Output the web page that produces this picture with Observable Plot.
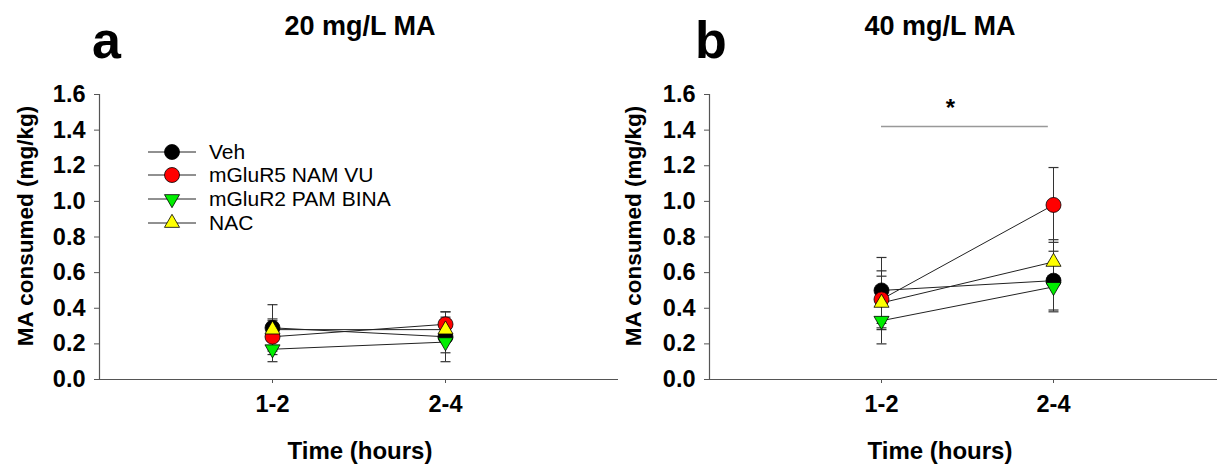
<!DOCTYPE html>
<html><head><meta charset="utf-8">
<script src="https://cdn.jsdelivr.net/npm/d3@7"></script>
<script src="https://cdn.jsdelivr.net/npm/@observablehq/plot@0.6"></script>
<style>
html,body{margin:0;padding:0;background:#fff;overflow:hidden;width:1217px;height:466px;}
#wrap{position:relative;width:1217px;height:466px;overflow:hidden;}
#wrap > svg{position:absolute;top:0;}
</style></head><body><div id="wrap"></div>
<script>
const FONT = '"Liberation Sans", Arial, sans-serif';
const TICK_FS = 23.5;

const timeLabels = ["1-2", "2-4"];
const timeX = [1, 2];
const groups = ["Veh", "mGluR5 NAM VU", "mGluR2 PAM BINA", "NAC"];
const groupFill = ["#000000", "#ff0000", "#00ee00", "#ffff00"];
const groupSymbol = ["circle", "circle", "triangle", "triangle"];
const groupRotate = [0, 0, 180, 0];
const groupR = [7.5, 7.5, 5.6, 5.6];

// Panel a: 20 mg/L MA (mean, SEM) at 1-2 and 2-4 h
const a_veh = [0.29, 0.24],  a_veh_sem = [0.13, 0.14];
const a_vu = [0.24, 0.31],   a_vu_sem = [0.10, 0.07];
const a_bina = [0.17, 0.21], a_bina_sem = [0.07, 0.06];
const a_nac = [0.28, 0.28],  a_nac_sem = [0.05, 0.07];
// Panel b: 40 mg/L MA
const b_veh = [0.50, 0.555], b_veh_sem = [0.185, 0.165];
const b_vu = [0.45, 0.98],   b_vu_sem = [0.16, 0.21];
const b_bina = [0.33, 0.52], b_bina_sem = [0.13, 0.14];
const b_nac = [0.43, 0.66],  b_nac_sem = [0.15, 0.125];

const yTicks = [0, 0.2, 0.4, 0.6, 0.8, 1.0, 1.2, 1.4, 1.6];
const xDomain = [0, 3];
const yDomain = [0, 1.6];
const sigX = [1.0, 1.97];
const sigY = [1.42];
const star = [{x: 1.40, y: 1.52, label: "*"}];

const capSymbol = {draw(ctx) { ctx.moveTo(-5, 0); ctx.lineTo(5, 0); }};

function buildRows(means, sems) {
  const rows = [];
  groups.forEach((g, gi) => timeX.forEach((t, ti) =>
    rows.push({g, gi, t, m: means[gi][ti], e: sems[gi][ti]})));
  return rows;
}

function fixTickText(svg) {
  svg.querySelectorAll('g[aria-label$="tick label"] text').forEach(t => {
    t.style.fontSize = TICK_FS + "px";
    t.style.fontWeight = "bold";
  });
}

function panel(means, sems, width, extra) {
  const rows = buildRows(means, sems);
  const marks = [
    Plot.ruleX(rows, {x: "t", y1: d => d.m - d.e, y2: d => d.m + d.e, stroke: "#333", strokeWidth: 1}),
    Plot.dot(rows, {x: "t", y: d => d.m - d.e, symbol: capSymbol, stroke: "#333", strokeWidth: 1.2, fill: "none"}),
    Plot.dot(rows, {x: "t", y: d => d.m + d.e, symbol: capSymbol, stroke: "#333", strokeWidth: 1.2, fill: "none"}),
    Plot.line(rows, {x: "t", y: "m", z: "g", stroke: "#222", strokeWidth: 1}),
    ...groups.map((g, gi) => Plot.dot(rows.filter(d => d.gi === gi), {
      x: "t", y: "m", r: groupR[gi], symbol: groupSymbol[gi], rotate: groupRotate[gi],
      fill: groupFill[gi], stroke: "#000", strokeWidth: 0.8
    })),
    Plot.ruleX([xDomain[0]], {stroke: "#555", strokeWidth: 1.2}),
    Plot.ruleY([yDomain[0]], {stroke: "#555", strokeWidth: 1.2}),
    Plot.axisY(yTicks, {tickFormat: d3.format(".1f"), tickSize: 5, tickPadding: 9,
      fontSize: TICK_FS, fontWeight: "bold", stroke: "#555", label: null}),
    Plot.axisX(timeX, {tickFormat: d => timeLabels[timeX.indexOf(d)], tickSize: 4, tickPadding: 12,
      fontSize: TICK_FS, fontWeight: "bold", stroke: "#555", label: null}),
    ...extra
  ];
  const svg = Plot.plot({
    width, height: 466, marginLeft: 99, marginRight: 2, marginTop: 94, marginBottom: 87,
    x: {domain: xDomain}, y: {domain: yDomain},
    style: {fontFamily: FONT, background: "transparent", color: "#000"},
    marks
  });
  fixTickText(svg);
  return svg;
}

const wrap = document.getElementById("wrap");
const svgA = panel([a_veh, a_vu, a_bina, a_nac], [a_veh_sem, a_vu_sem, a_bina_sem, a_nac_sem], 620, []);
svgA.style.left = "0px";
const svgB = panel([b_veh, b_vu, b_bina, b_nac], [b_veh_sem, b_vu_sem, b_bina_sem, b_nac_sem], 617, [
  Plot.ruleY(sigY, {x1: sigX[0], x2: sigX[1], stroke: "#999", strokeWidth: 1.5}),
  Plot.text(star, {x: "x", y: "y", text: "label", fontSize: 24, fontWeight: "bold"})
]);
svgB.style.left = "610px";
wrap.appendChild(svgA);
wrap.appendChild(svgB);

// Overlay: titles, panel letters, axis titles, legend
const ov = d3.select(wrap).append("svg").attr("width", 1217).attr("height", 466)
  .style("left", "0px").style("pointer-events", "none")
  .attr("font-family", FONT);
function label(txt, x, y, size, anchor, rot) {
  const t = ov.append("text").text(txt).attr("font-size", size).attr("font-weight", "bold")
    .attr("text-anchor", anchor);
  if (rot) t.attr("transform", `translate(${x},${y}) rotate(-90)`).attr("dy", "0.35em");
  else t.attr("transform", `translate(${x},${y})`);
}
const panelLabels = [
  {letter: "a", title: "20 mg/L MA", lx: 92, tx: 360, ax: 360, yx: 25},
  {letter: "b", title: "40 mg/L MA", lx: 695, tx: 940, ax: 940, yx: 633}
];
panelLabels.forEach(p => {
  label(p.letter, p.lx, 58, 52, "start");
  label(p.title, p.tx, 35, 27, "middle");
  label("Time (hours)", p.ax, 459, 24, "middle");
  label("MA consumed (mg/kg)", p.yx, 226, 22.5, "middle", true);
});

const legY = [152, 175, 199, 223];
groups.forEach((g, gi) => {
  const y = legY[gi];
  ov.append("line").attr("x1", 148).attr("x2", 196).attr("y1", y).attr("y2", y)
    .attr("stroke", "#222").attr("stroke-width", 1);
  const sym = d3.symbol(gi < 2 ? d3.symbolCircle : d3.symbolTriangle, Math.PI * groupR[gi] * groupR[gi]);
  ov.append("path").attr("d", sym())
    .attr("transform", `translate(172,${y}) rotate(${groupRotate[gi]})`)
    .attr("fill", groupFill[gi]).attr("stroke", "#000").attr("stroke-width", 0.8);
  ov.append("text").text(g).attr("font-size", 21).attr("dy", "0.35em")
    .attr("transform", `translate(209,${y})`);
});
</script></body></html>
